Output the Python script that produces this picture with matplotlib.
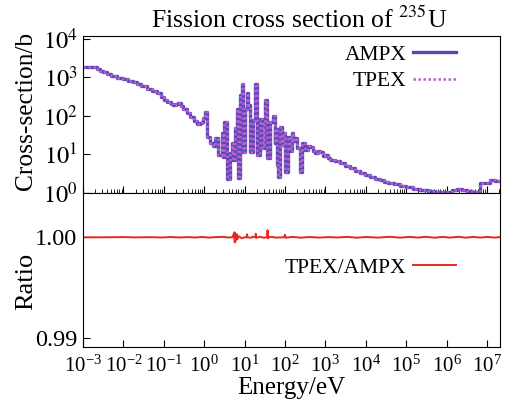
import numpy as np
import matplotlib
matplotlib.use("Agg")
import matplotlib.pyplot as plt
from matplotlib.ticker import LogLocator, NullLocator, NullFormatter

plt.rcParams['font.family'] = ['Liberation Serif', 'DejaVu Serif']
plt.rcParams['mathtext.fontset'] = 'stix'

# Cross-section (b) vs energy (eV)
energy = [1.0e-3, 2.2e-3, 2.6e-3, 3.2e-3, 3.9e-3, 5.0e-3, 7.0e-3, 9.8e-3,
          0.013, 0.017, 0.022, 0.028, 0.038, 0.050, 0.068, 0.085, 0.10, 0.12,
          0.15, 0.17, 0.20, 0.22, 0.26, 0.30, 0.37, 0.45, 0.55, 0.66, 0.78,
          0.88, 0.95, 1.05,
          1.17, 1.39, 1.65, 1.85, 2.2, 2.76, 2.9, 3.1, 3.66, 4.35, 4.9, 5.2,
          5.8, 6.5, 6.9, 7.7, 8.6, 9.1, 10.2, 11.5, 12.1, 13.6, 16.1, 18.1,
          20.3, 24.0, 27.0, 28.5, 30.0, 32.0, 35.8, 42.5, 50.5, 55.0, 58.0,
          63.4, 67.0, 75.0, 82.0, 89.0, 100.0, 119.0, 130.0, 149.0, 160.0,
          177.0, 200.0, 235.0,
          260, 312, 370, 416, 480, 553, 640, 740, 850, 977, 1150, 1300, 1700,
          2300, 3000, 4060, 5400, 7200, 9500, 12700, 17000, 22400, 29000,
          35500, 50000, 70300, 1.0e5, 1.5e5, 2.2e5, 3.4e5, 5.2e5, 7.5e5,
          1.02e6, 1.4e6, 1.8e6, 2.4e6, 3.2e6, 4.3e6, 5.6e6, 6.7e6, 8.9e6,
          1.19e7, 1.58e7, 2.1e7]
xs_ampx = [1900, 1650, 1480, 1400, 1230, 1100, 980, 910,
           820, 740, 680, 590, 500, 440, 380, 300, 250, 225,
           200, 195, 205, 210, 185, 155, 120, 91, 72, 63, 64,
           68, 90, 123,
           28, 20, 17, 26, 9.5, 35, 8.5, 68, 2.3, 11, 19.5, 7,
           47, 155, 2.5, 340, 680, 11.5, 155, 380, 190, 11.5, 76, 680,
           9.5, 85, 47, 15, 60, 250, 8, 68, 100, 20, 45,
           5.2, 2.6, 50, 18, 37, 3.5, 28, 12, 35, 22,
           26, 15, 3.5,
           20, 13, 17, 15.5, 12, 10.7, 12.5, 11.5, 9, 9.5, 8, 7.1, 6.6,
           5.9, 5.1, 4.4, 3.8, 3.3, 2.9, 2.6, 2.35, 2.15, 1.95,
           1.8, 1.7, 1.55, 1.45, 1.3, 1.2, 1.12, 1.07, 1.05,
           1.07, 1.18, 1.26, 1.2, 1.12, 1.08, 1.05, 1.82, 1.82,
           2.14, 2.04, 2.04]
xs_tpex = list(xs_ampx)

# TPEX/AMPX ratio
ratio_energy = [1e-3, 0.003, 0.01, 0.02, 0.04, 0.06, 0.09, 0.15, 0.25, 0.4,
                0.6, 0.9, 1.3, 2, 3, 4, 5.0, 5.6, 5.7, 5.8, 5.9, 6.0, 6.4,
                6.6, 6.8, 7.2, 8.5, 10, 11.2, 11.5, 11.8, 14, 16, 18.5, 19,
                19.5, 24, 30, 36, 37, 38, 39, 45, 60, 95, 100, 105, 150, 250,
                400, 700, 1200, 2000, 3500, 6000, 1e4, 2e4, 4e4, 7e4, 1.2e5,
                2e5, 3e5, 5e5, 8e5, 1.2e6, 2e6, 3e6, 4.5e6, 7e6, 1e7, 1.5e7,
                2.1e7]
ratio = [1.00000, 1.00000, 1.00002, 0.99999, 1.00001, 1.00000, 0.99998,
         1.00003, 0.99998, 1.00002, 0.99998, 1.00003, 0.99997, 1.00002,
         1.00004, 0.99998, 1.00000, 1.00050, 0.99950, 1.00040, 0.99960,
         1.00000, 1.00030, 0.99980, 1.00000, 1.00010, 0.99990, 1.00000,
         1.00000, 1.00030, 1.00000, 0.99995, 1.00005, 1.00000, 1.00035,
         0.99995, 1.00005, 0.99995, 1.00000, 1.00070, 0.99990, 1.00000,
         1.00005, 0.99997, 1.00000, 1.00025, 0.99995, 1.00004, 0.99996,
         1.00003, 0.99997, 1.00002, 0.99998, 1.00004, 0.99996, 1.00003,
         0.99997, 1.00005, 0.99996, 1.00004, 0.99997, 1.00005, 0.99996,
         1.00004, 0.99997, 1.00005, 0.99996, 1.00004, 0.99997, 1.00004,
         0.99997, 1.00002]

fig = plt.figure(figsize=(5.10, 4.03), dpi=100)
left, width = 83 / 510, 417 / 510
ax1 = fig.add_axes([left, 1 - 193 / 403, width, 157 / 403])
ax2 = fig.add_axes([left, 1 - 347 / 403, width, 154 / 403])

yfs = 17.5   # y tick labels
xfs = 15     # x tick labels
lfs = 15.5   # legends

# Upper panel
ax1.plot(energy, xs_ampx, drawstyle='steps-post', color='#5848b8',
         linewidth=2.4, label='AMPX')
ax1.plot(energy, xs_tpex, drawstyle='steps-post', color='#b860cc',
         linewidth=1.8, linestyle=(0, (1, 1)), label='TPEX')
ax1.set_xscale('log')
ax1.set_yscale('log')
ax1.set_xlim(1e-3, 2.1e7)
ax1.set_ylim(1, 10 ** 4.07)
ax1.set_yticks([1, 10, 100, 1000, 10000])
ax1.set_yticklabels([r'$10^{0}$', r'$10^{1}$', r'$10^{2}$', r'$10^{3}$', r'$10^{4}$'])
ax1.yaxis.set_minor_locator(NullLocator())
ax1.xaxis.set_major_locator(LogLocator(base=10, numticks=20))
ax1.xaxis.set_minor_locator(LogLocator(base=10, subs=np.arange(2, 10), numticks=20))
ax1.xaxis.set_minor_formatter(NullFormatter())
ax1.tick_params(axis='x', which='both', direction='in', labelbottom=False)
ax1.tick_params(axis='x', which='major', length=5)
ax1.tick_params(axis='x', which='minor', length=3)
ax1.tick_params(axis='y', which='major', direction='in', length=5,
                labelsize=yfs, pad=4)
fig.text(299 / 510, 1 - 28 / 403, r'Fission cross section of $^{235}$U',
         ha='center', va='baseline', fontsize=18.5)
ax1.legend(loc='upper right', bbox_to_anchor=(0.915, 1.0), frameon=False,
           markerfirst=False, fontsize=lfs, handlelength=2.0,
           labelspacing=0.3, borderaxespad=0.0, handletextpad=0.3)

# Lower panel
ax2.plot(ratio_energy, ratio, color='#e8281e', linewidth=1.4,
         label='TPEX/AMPX')
ax2.set_xscale('log')
ax2.set_xlim(1e-3, 2.1e7)
ax2.set_ylim(0.9891, 1.0044)
ax2.set_yticks([0.99, 1.00])
ax2.set_yticklabels(['0.99', '1.00'])
ax2.xaxis.set_major_locator(LogLocator(base=10, numticks=20))
ax2.xaxis.set_minor_locator(NullLocator())
ax2.tick_params(axis='both', which='major', direction='in', length=5, pad=4)
ax2.tick_params(axis='y', labelsize=yfs)
ax2.tick_params(axis='x', labelsize=xfs, pad=6)
ax2.set_xlabel('Energy/eV', fontsize=18, labelpad=0)
ax2.legend(loc='center right', bbox_to_anchor=(0.915, 0.513), frameon=False,
           markerfirst=False, fontsize=lfs, handlelength=2.0,
           borderaxespad=0.0, handletextpad=0.3)

fig.text(26 / 510, 1 - 111 / 403, 'Cross-section/b', rotation=90,
         ha='center', va='center', fontsize=18.3)
fig.text(26 / 510, 1 - 281 / 403, 'Ratio', rotation=90,
         ha='center', va='center', fontsize=19)

plt.savefig('out.png', dpi=100)
